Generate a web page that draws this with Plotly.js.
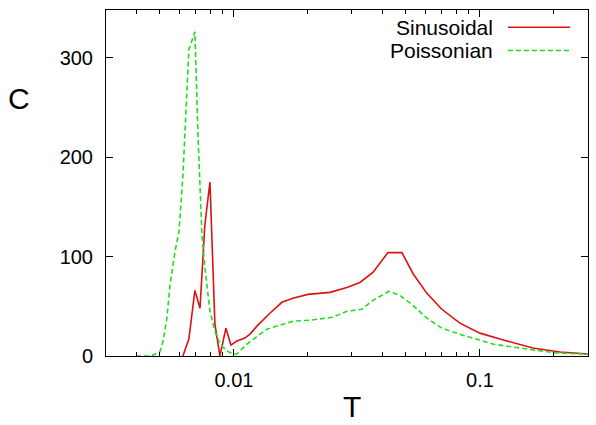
<!DOCTYPE html>
<html>
<head>
<meta charset="utf-8">
<script src="https://cdn.plot.ly/plotly-3.0.1.min.js"></script>
<style>html,body{margin:0;padding:0;background:#fff;}#chart{width:596px;height:425px;}</style>
</head>
<body>
<div id="chart"></div>
<script>
// Sinusoidal series
const sinT = [0.0062, 0.00656, 0.00694, 0.00728, 0.00762, 0.00799, 0.00837, 0.00877, 0.00928, 0.00972, 0.01028, 0.01108, 0.01162, 0.0124, 0.0140, 0.01567, 0.01737, 0.0200, 0.02456, 0.0288, 0.03252, 0.03673, 0.04227, 0.04819, 0.05342, 0.06088, 0.0700, 0.0829, 0.1, 0.1206, 0.1642, 0.2114, 0.2748];
const sinC = [0, 17, 66, 48, 132, 175, 32, 0, 28, 11, 15, 18, 22, 30, 43, 54, 58, 62, 64, 69, 74, 84, 104, 104, 83, 63, 47, 33, 23, 17, 8, 4, 2];
// Poissonian series
const poiT = [0.0040, 0.0046, 0.0050, 0.00515, 0.00534, 0.00549, 0.00576, 0.00598, 0.00620, 0.00656, 0.00694, 0.00714, 0.00741, 0.00762, 0.00799, 0.00837, 0.00877, 0.00937, 0.0099, 0.01028, 0.01129, 0.01362, 0.01737, 0.02037, 0.02526, 0.0288, 0.03314, 0.03673, 0.04267, 0.0473, 0.05342, 0.06088, 0.0700, 0.085, 0.1, 0.1129, 0.1553, 0.2056, 0.2748];
const poiC = [0, 0, 4, 15, 38, 70, 105, 125, 180, 308, 326, 224, 123, 89, 45, 25, 12, 5, 2, 2, 12, 27, 35, 36, 39, 45, 47, 56, 65, 61, 51, 38, 28, 21, 16, 12, 7, 3, 2];
// Axis ticks
const xMajor = [0.01, 0.1];
const xMajorText = ['0.01', '0.1'];
const xMinor = [0.004, 0.005, 0.006, 0.007, 0.008, 0.009, 0.02, 0.03, 0.04, 0.05, 0.06, 0.07, 0.08, 0.09, 0.2];
const yTicks = [0, 100, 200, 300];
const seriesNames = ['Sinusoidal', 'Poissonian'];

const FONT = 'Liberation Sans, Arial, sans-serif';
const RED = '#dd1111';
const GREEN = '#22dd22';

const traces = [
  {x: sinT, y: sinC, mode: 'lines', name: seriesNames[0], line: {color: RED, width: 1.6}},
  {x: poiT, y: poiC, mode: 'lines', name: seriesNames[1], line: {color: GREEN, width: 1.6, dash: '5px,3px'}}
];

const axisCommon = {
  showline: true, linecolor: '#000', linewidth: 1, mirror: 'ticks',
  ticks: 'inside', tickcolor: '#000', tickwidth: 1, ticklen: 7,
  showgrid: false, zeroline: false,
  tickfont: {family: FONT, size: 20, color: '#000'}
};

const layout = {
  width: 596, height: 425,
  margin: {l: 106, r: 8, t: 10, b: 69},
  paper_bgcolor: '#fff', plot_bgcolor: '#fff',
  showlegend: false,
  xaxis: Object.assign({}, axisCommon, {
    type: 'log', range: [Math.log10(0.00302), Math.log10(0.275)],
    tickmode: 'array', tickvals: xMajor, ticktext: xMajorText,
    ticklabelstandoff: 6,
    minor: {tickmode: 'array', tickvals: xMinor, ticks: 'inside', ticklen: 4, tickcolor: '#000', tickwidth: 1, showgrid: false}
  }),
  yaxis: Object.assign({}, axisCommon, {
    range: [0, 348],
    tickmode: 'array', tickvals: yTicks,
    ticklabelstandoff: 8
  }),
  annotations: [
    {text: 'C', xref: 'paper', yref: 'paper', x: -0.18, y: 0.745, xanchor: 'center', yanchor: 'middle', showarrow: false, font: {family: FONT, size: 30, color: '#000'}},
    {text: 'T', xref: 'paper', yref: 'paper', x: 0.510, y: -0.147, xanchor: 'center', yanchor: 'middle', showarrow: false, font: {family: FONT, size: 30, color: '#000'}},
    {text: seriesNames[0], xref: 'paper', yref: 'paper', x: 0.808, y: 0.95, xanchor: 'right', yanchor: 'middle', showarrow: false, font: {family: FONT, size: 21, color: '#000'}},
    {text: seriesNames[1], xref: 'paper', yref: 'paper', x: 0.808, y: 0.883, xanchor: 'right', yanchor: 'middle', showarrow: false, font: {family: FONT, size: 21, color: '#000'}}
  ],
  shapes: [
    {type: 'line', xref: 'paper', yref: 'paper', x0: 0.834, x1: 0.963, y0: 0.95, y1: 0.95, line: {color: RED, width: 1.6}},
    {type: 'line', xref: 'paper', yref: 'paper', x0: 0.834, x1: 0.963, y0: 0.883, y1: 0.883, line: {color: GREEN, width: 1.6, dash: '5px,3px'}}
  ]
};

Plotly.newPlot('chart', traces, layout, {displayModeBar: false, staticPlot: true});
</script>
</body>
</html>
